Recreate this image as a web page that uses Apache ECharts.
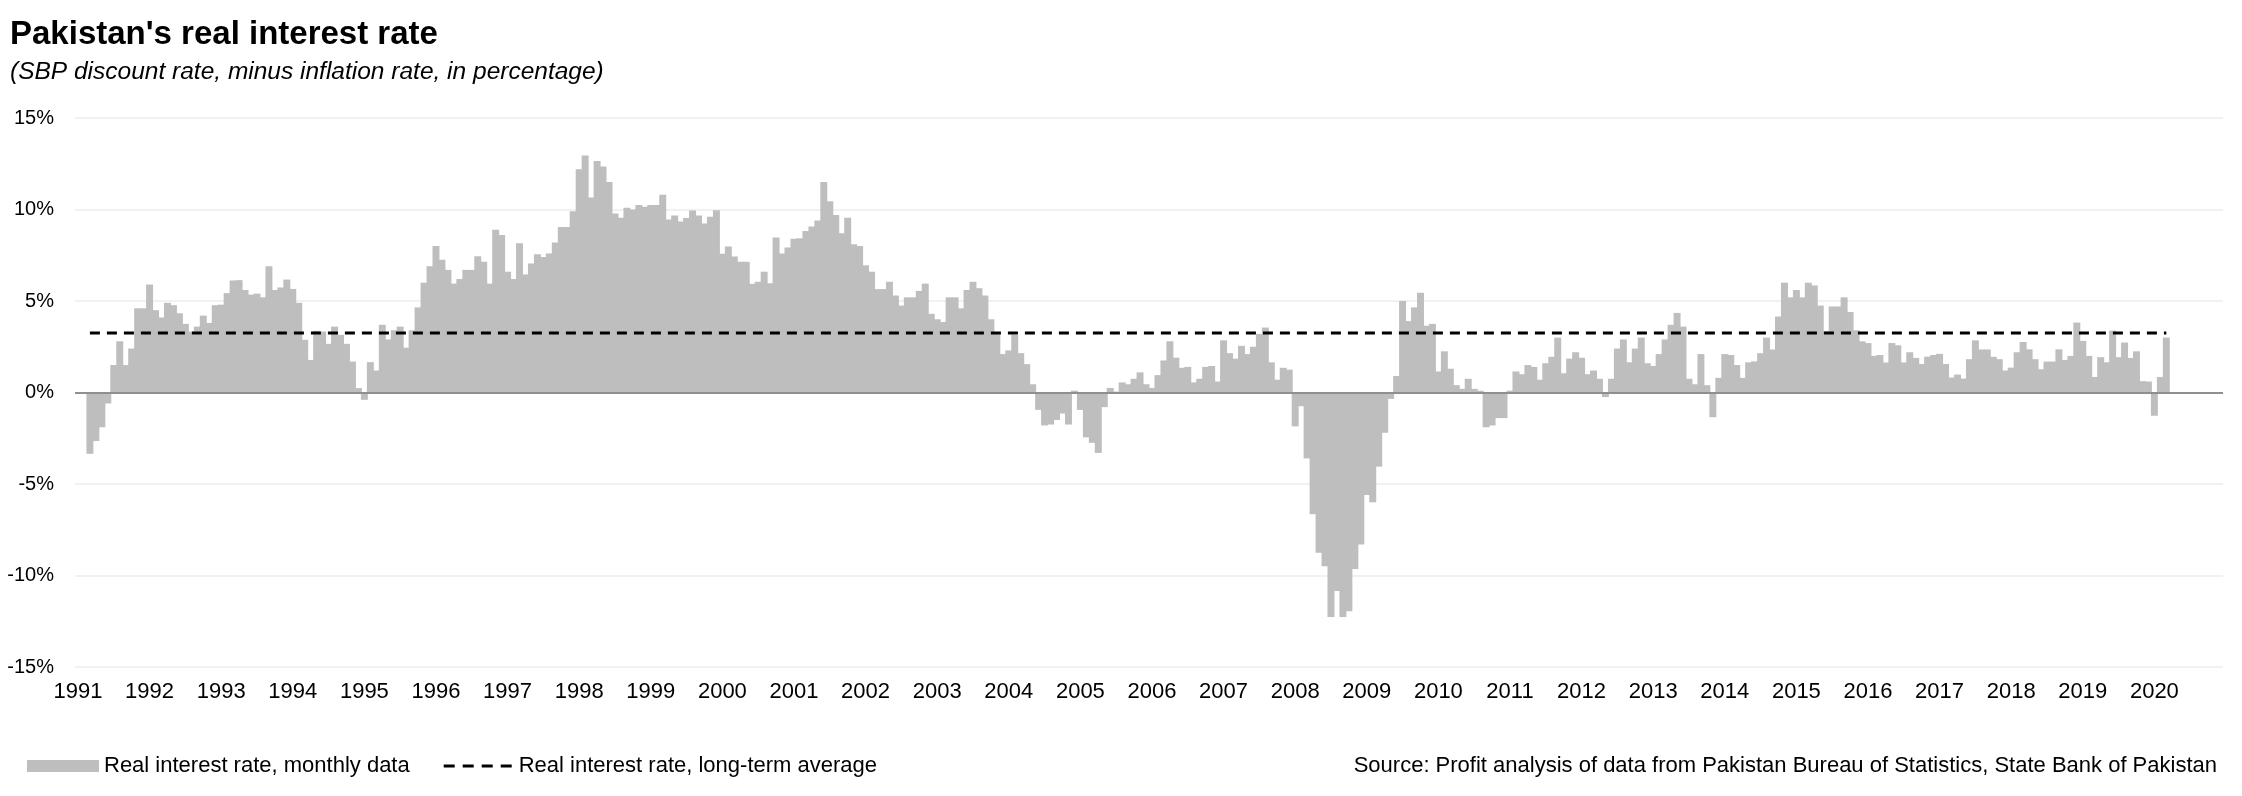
<!DOCTYPE html>
<html>
<head>
<meta charset="utf-8">
<script src="https://cdn.jsdelivr.net/npm/echarts@6/dist/echarts.min.js"></script>
<style>
html,body{margin:0;padding:0;background:#fff;}
#chart{width:2242px;height:796px;}
</style>
</head>
<body>
<div id="chart"></div>
<script>
// Monthly real interest rate (%), Jan..Dec of each year
const y1991 = [null, null, -3.35, -2.65, -1.9, -0.6, 1.5, 2.8, 1.5, 2.4, 4.6, 4.6];
const y1992 = [5.9, 4.5, 4.1, 4.9, 4.77, 4.33, 3.75, 3.33, 3.6, 4.2, 3.8, 4.77];
const y1993 = [4.8, 5.43, 6.12, 6.14, 5.6, 5.35, 5.4, 5.2, 6.9, 5.6, 5.74, 6.17];
const y1994 = [5.66, 4.9, 2.88, 1.78, 3.37, 3.33, 2.66, 3.6, 3.15, 2.66, 1.69, 0.24];
const y1995 = [-0.4, 1.66, 1.2, 3.7, 2.9, 3.4, 3.6, 2.45, 3.4, 4.65, 6.0, 6.9];
const y1996 = [8.0, 7.25, 6.7, 5.95, 6.2, 6.7, 6.7, 7.45, 7.15, 5.95, 8.9, 8.6];
const y1997 = [6.6, 6.2, 8.15, 6.45, 7.05, 7.55, 7.4, 7.6, 8.2, 9.05, 9.05, 9.9];
const y1998 = [12.2, 12.95, 10.65, 12.65, 12.35, 11.5, 9.78, 9.55, 10.1, 10.0, 10.25, 10.15];
const y1999 = [10.25, 10.25, 10.8, 9.45, 9.67, 9.35, 9.53, 9.95, 9.67, 9.23, 9.6, 9.96];
const y2000 = [7.58, 7.98, 7.43, 7.14, 7.14, 5.94, 6.05, 6.6, 5.97, 8.47, 7.6, 7.92];
const y2001 = [8.4, 8.43, 8.83, 9.07, 9.4, 11.5, 10.45, 9.7, 8.7, 9.55, 8.1, 8.0];
const y2002 = [6.95, 6.6, 5.65, 5.65, 6.05, 5.3, 4.75, 5.2, 5.2, 5.55, 5.95, 4.3];
const y2003 = [4.0, 3.85, 5.2, 5.2, 4.6, 5.6, 6.05, 5.7, 5.3, 4.0, 3.25, 2.1];
const y2004 = [2.3, 3.15, 2.15, 1.55, 0.45, -0.95, -1.8, -1.75, -1.5, -1.15, -1.75, 0.1];
const y2005 = [-0.95, -2.45, -2.75, -3.3, -0.8, 0.25, 0.05, 0.55, 0.45, 0.75, 1.1, 0.45];
const y2006 = [0.25, 0.95, 1.75, 2.8, 1.9, 1.35, 1.4, 0.55, 0.75, 1.4, 1.45, 0.6];
const y2007 = [2.85, 2.15, 1.85, 2.55, 2.1, 2.5, 3.2, 3.55, 1.65, 0.7, 1.35, 1.25];
const y2008 = [-1.85, -0.75, -3.6, -6.65, -8.75, -9.5, -12.27, -10.85, -12.27, -11.95, -9.65, -8.3];
const y2009 = [-5.6, -6.0, -4.05, -2.2, -0.35, 0.9, 5.0, 3.9, 4.65, 5.45, 3.65, 3.75];
const y2010 = [1.15, 2.25, 1.3, 0.4, 0.2, 0.75, 0.2, 0.1, -1.9, -1.8, -1.4, -1.4];
const y2011 = [0.1, 1.15, 1.0, 1.5, 1.4, 0.7, 1.6, 1.95, 3.0, 1.05, 1.85, 2.2];
const y2012 = [1.9, 1.0, 1.2, 0.75, -0.25, 0.75, 2.4, 2.9, 1.65, 2.4, 3.0, 1.6];
const y2013 = [1.45, 2.1, 2.9, 3.7, 4.35, 3.6, 0.75, 0.45, 2.1, 0.4, -1.35, 0.8];
const y2014 = [2.1, 2.05, 1.5, 0.8, 1.65, 1.7, 2.15, 3.0, 2.35, 4.15, 6.0, 5.2];
const y2015 = [5.6, 5.2, 6.0, 5.85, 4.75, 3.35, 4.7, 4.7, 5.2, 4.4, 3.4, 2.8];
const y2016 = [2.7, 2.0, 2.05, 1.64, 2.7, 2.58, 1.64, 2.2, 1.89, 1.56, 1.96, 2.05];
const y2017 = [2.11, 1.56, 0.82, 0.98, 0.76, 1.82, 2.85, 2.35, 2.35, 1.95, 1.82, 1.2];
const y2018 = [1.36, 2.2, 2.76, 2.36, 1.82, 1.27, 1.69, 1.69, 2.36, 1.78, 2.0, 3.82];
const y2019 = [2.82, 2.0, 0.85, 1.93, 1.65, 3.38, 1.93, 2.73, 1.89, 2.25, 0.62, 0.6];
const y2020 = [-1.27, 0.85, 3.0, null, null, null, null, null, null, null, null, null];

// Long-term average real interest rate (%)
const longTermAverage = 3.25;

const years = [1991,1992,1993,1994,1995,1996,1997,1998,1999,2000,2001,2002,2003,2004,2005,2006,2007,2008,2009,2010,2011,2012,2013,2014,2015,2016,2017,2018,2019,2020];
const yearly = [y1991,y1992,y1993,y1994,y1995,y1996,y1997,y1998,y1999,y2000,y2001,y2002,y2003,y2004,y2005,y2006,y2007,y2008,y2009,y2010,y2011,y2012,y2013,y2014,y2015,y2016,y2017,y2018,y2019,y2020];
const yTicks = [-15, -10, -5, 0, 5, 10, 15];

const categories = [];
years.forEach(function(y){ for (let m = 1; m <= 12; m++) categories.push(y + '-' + (m < 10 ? '0' + m : m)); });
const monthly = [].concat.apply([], yearly);
const averageLine = monthly.map(function(v){ return v == null ? null : longTermAverage; });

const FONT = '"Liberation Sans", Arial, Helvetica, sans-serif';
// legend icon: four short dashes (tiny corner marks keep the icon box height)
const DASH_ICON = 'path://M0,0h0.01v0.01h-0.01z M0,4.5h11v3h-11z M19,4.5h11v3h-11z M38,4.5h11v3h-11z M57,4.5h11v3h-11z M67.99,11.99h0.01v0.01h-0.01z';

const GRID = {left: 75, right: 19, top: 118, bottom: 129};
const slotWidth = (2242 - GRID.left - GRID.right) / monthly.length;

const chart = echarts.init(document.getElementById('chart'), null, {renderer: 'canvas'});
chart.setOption({
  animation: false,
  backgroundColor: '#ffffff',
  textStyle: {fontFamily: FONT, color: '#000'},
  title: [{
    text: "Pakistan's real interest rate",
    subtext: '(SBP discount rate, minus inflation rate, in percentage)',
    left: 5, top: 13, itemGap: 9,
    textStyle: {fontFamily: FONT, fontSize: 33, fontWeight: 'bold', color: '#000'},
    subtextStyle: {fontFamily: FONT, fontSize: 24.5, fontStyle: 'italic', color: '#000'}
  }, {
    text: 'Source: Profit analysis of data from Pakistan Bureau of Statistics, State Bank of Pakistan',
    right: 20, top: 750,
    textStyle: {fontFamily: FONT, fontSize: 22, fontWeight: 'normal', color: '#000'}
  }],
  legend: {
    left: 22, top: 750, itemWidth: 72, itemHeight: 12, itemGap: 34,
    textStyle: {fontFamily: FONT, fontSize: 22, color: '#000'},
    data: [{name: 'Real interest rate, monthly data', icon: 'rect'},
           {name: 'Real interest rate, long-term average', icon: DASH_ICON, itemStyle: {color: '#000'}}]
  },
  grid: GRID,
  xAxis: {
    type: 'category', data: categories, boundaryGap: true,
    axisLine: {show: false, onZero: false}, axisTick: {show: false},
    axisLabel: {
      fontFamily: FONT, fontSize: 22, color: '#000', margin: 14,
      interval: function(i){ return i % 12 === 0; },
      formatter: function(v){ return v.slice(0, 4); }
    },
    splitLine: {show: false}
  },
  yAxis: {
    type: 'value', min: yTicks[0], max: yTicks[yTicks.length - 1], interval: 5,
    axisLine: {show: false}, axisTick: {show: false},
    axisLabel: {fontFamily: FONT, fontSize: 20, color: '#000', margin: 21, formatter: '{value}%'},
    splitLine: {lineStyle: {color: '#ededed', width: 1.5}}
  },
  series: [{
    name: 'Real interest rate, monthly data',
    type: 'bar', data: monthly, barWidth: slotWidth + 1,
    itemStyle: {color: '#bfbebf', borderWidth: 0},
    markLine: {
      silent: true, symbol: 'none', label: {show: false},
      lineStyle: {color: '#8f8f8f', width: 2, type: 'solid'},
      data: [{yAxis: 0}]
    }
  }, {
    name: 'Real interest rate, long-term average',
    type: 'line', data: averageLine, symbol: 'none', showSymbol: false,
    lineStyle: {color: '#000', width: 3, type: [10, 7]}, itemStyle: {color: '#000'},
    z: 5
  }]
});
</script>
</body>
</html>
